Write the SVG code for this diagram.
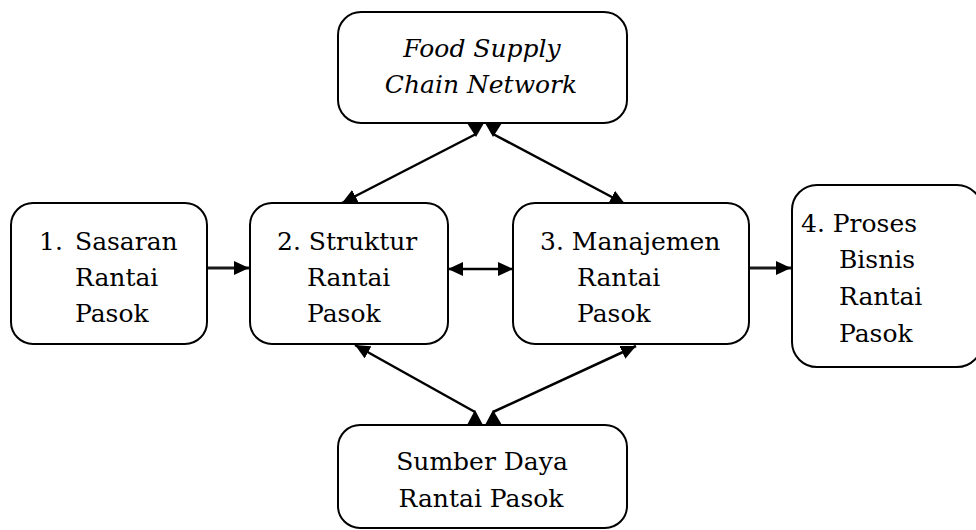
<svg xmlns="http://www.w3.org/2000/svg" width="976" height="530" viewBox="0 0 976 530">
  <style>
    .box { fill: #ffffff; stroke: #000000; stroke-width: 2; }
    .wire { stroke: #000000; stroke-width: 2.5; fill: none; }
    .thick { stroke: #1a1a1a; stroke-width: 3; }
    .head { fill: #000000; stroke: none; }
  </style>
  <defs>
    <marker id="arrow" markerUnits="userSpaceOnUse" markerWidth="16" markerHeight="14" refX="15" refY="7" orient="auto-start-reverse">
      <path d="M0,0 L15,7 L0,14 z" fill="#000000"/>
    </marker>
  </defs>

  <!-- connectors -->
  <g id="connectors">
    <line class="wire thick" x1="207" y1="268" x2="249" y2="268" marker-end="url(#arrow)"/>
    <line class="wire" x1="448" y1="269" x2="513" y2="269" marker-start="url(#arrow)" marker-end="url(#arrow)"/>
    <line class="wire thick" x1="748" y1="268" x2="791" y2="268" marker-end="url(#arrow)"/>

    <line class="wire" x1="476" y1="134" x2="342" y2="203" marker-end="url(#arrow)"/>
    <line class="wire" x1="493" y1="134" x2="625" y2="204" marker-end="url(#arrow)"/>
    <line class="wire" x1="475" y1="412" x2="355" y2="345" marker-end="url(#arrow)"/>
    <line class="wire" x1="493" y1="412" x2="636" y2="346" marker-end="url(#arrow)"/>

    <polygon class="head" points="467,123 484,123 476,137"/>
    <polygon class="head" points="485,123 502,123 493,137"/>
    <polygon class="head" points="467,425 483,425 475,410"/>
    <polygon class="head" points="485,425 502,425 493,410"/>
  </g>

  <!-- all labels share one serif face -->
  <g font-family="DejaVu Serif, serif" font-size="25" fill="#000000">
    <!-- network -->
    <g id="node-network">
      <rect class="box" x="338" y="12" width="289" height="111" rx="23" ry="23"/>
      <text x="482" y="57" text-anchor="middle" font-style="italic">Food Supply</text>
      <text x="481" y="93" text-anchor="middle" font-style="italic">Chain Network</text>
    </g>

    <!-- 1 -->
    <g id="node-sasaran">
      <rect class="box" x="11" y="203" width="196" height="141" rx="22" ry="22"/>
      <text x="39" y="250">1.</text>
      <text x="75" y="250">Sasaran</text>
      <text x="75" y="286">Rantai</text>
      <text x="75" y="322">Pasok</text>
    </g>

    <!-- 2 -->
    <g id="node-struktur">
      <rect class="box" x="250" y="203" width="198" height="141" rx="22" ry="22"/>
      <text x="277" y="250">2. Struktur</text>
      <text x="307" y="286">Rantai</text>
      <text x="307" y="322">Pasok</text>
    </g>

    <!-- 3 -->
    <g id="node-manajemen">
      <rect class="box" x="513" y="203" width="236" height="141" rx="22" ry="22"/>
      <text x="540" y="250">3. Manajemen</text>
      <text x="577" y="286">Rantai</text>
      <text x="577" y="322">Pasok</text>
    </g>

    <!-- 4 -->
    <g id="node-proses">
      <rect class="box" x="792" y="185" width="190" height="182" rx="25" ry="25"/>
      <text x="801" y="232">4. Proses</text>
      <text x="839" y="268">Bisnis</text>
      <text x="839" y="305">Rantai</text>
      <text x="839" y="342">Pasok</text>
    </g>

    <!-- resources -->
    <g id="node-sumber-daya">
      <rect class="box" x="338" y="425" width="289" height="103" rx="22" ry="22"/>
      <text x="482" y="470" text-anchor="middle">Sumber Daya</text>
      <text x="481" y="507" text-anchor="middle">Rantai Pasok</text>
    </g>
  </g>
</svg>
